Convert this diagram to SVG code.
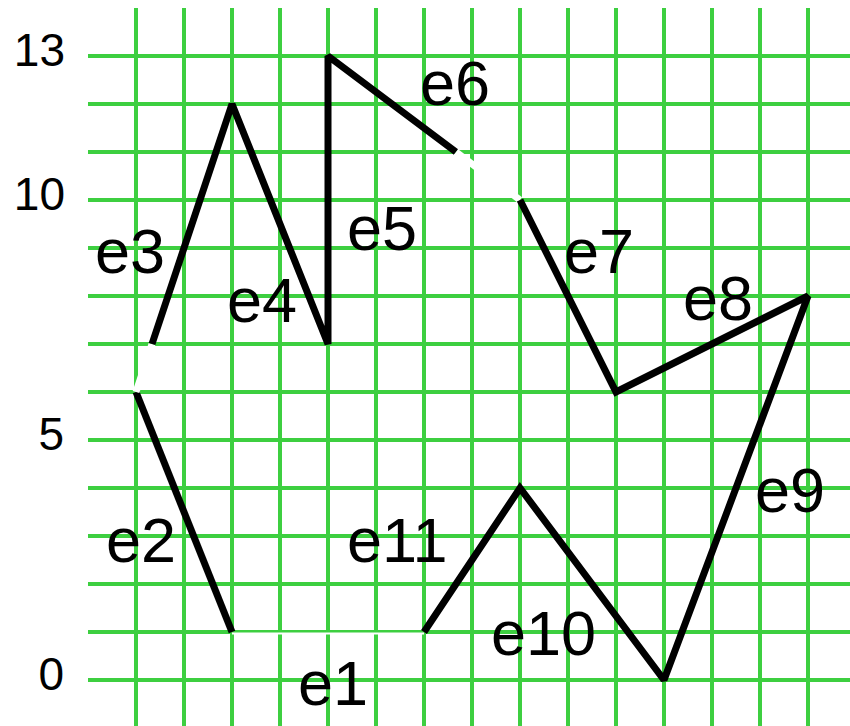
<svg xmlns="http://www.w3.org/2000/svg" width="850" height="726" viewBox="0 0 850 726">
<style>
.grid line{stroke:#3dcf40;stroke-width:4}
.edge{fill:none;stroke:#000;stroke-width:7;stroke-linejoin:miter;stroke-miterlimit:2;stroke-linecap:butt}
.gap{fill:none;stroke:#fff;stroke-width:7;stroke-linecap:butt}
.axis{font-family:"Liberation Sans",Arial,sans-serif;font-size:46px;fill:#000;text-anchor:end}
.lbl{font-family:"Liberation Sans",Arial,sans-serif;font-size:63px;fill:#000}
</style>
<rect width="850" height="726" fill="#fff"/>
<g id="grid" class="grid">
<line x1="136" y1="8" x2="136" y2="728"/><line x1="184" y1="8" x2="184" y2="728"/><line x1="232" y1="8" x2="232" y2="728"/><line x1="280" y1="8" x2="280" y2="728"/><line x1="328" y1="8" x2="328" y2="728"/><line x1="376" y1="8" x2="376" y2="728"/><line x1="424" y1="8" x2="424" y2="728"/><line x1="472" y1="8" x2="472" y2="728"/><line x1="520" y1="8" x2="520" y2="728"/><line x1="568" y1="8" x2="568" y2="728"/><line x1="616" y1="8" x2="616" y2="728"/><line x1="664" y1="8" x2="664" y2="728"/><line x1="712" y1="8" x2="712" y2="728"/><line x1="760" y1="8" x2="760" y2="728"/><line x1="808" y1="8" x2="808" y2="728"/>
<line x1="88" y1="56" x2="856" y2="56"/><line x1="88" y1="104" x2="856" y2="104"/><line x1="88" y1="152" x2="856" y2="152"/><line x1="88" y1="200" x2="856" y2="200"/><line x1="88" y1="248" x2="856" y2="248"/><line x1="88" y1="296" x2="856" y2="296"/><line x1="88" y1="344" x2="856" y2="344"/><line x1="88" y1="392" x2="856" y2="392"/><line x1="88" y1="440" x2="856" y2="440"/><line x1="88" y1="488" x2="856" y2="488"/><line x1="88" y1="536" x2="856" y2="536"/><line x1="88" y1="584" x2="856" y2="584"/><line x1="88" y1="632" x2="856" y2="632"/><line x1="88" y1="680" x2="856" y2="680"/>
</g>
<g id="axis-labels">
<text class="axis" x="65" y="66">13</text>
<text class="axis" x="65" y="210">10</text>
<text class="axis" x="64" y="450">5</text>
<text class="axis" x="64" y="690">0</text>
</g>
<g id="connectors">
<g id="e1"><line x1="232" y1="633.5" x2="424" y2="633.5" stroke="#fff" stroke-width="2"/><text class="lbl" x="298" y="705">e1</text></g>
<g id="e2"><line class="edge" x1="232" y1="632" x2="136" y2="392"/><text class="lbl" x="106" y="562">e2</text></g>
<g id="e3"><line class="gap" x1="136" y1="392" x2="152" y2="344"/><text class="lbl" x="95" y="273">e3</text></g>
<polyline class="edge" points="152,344 232,104 328,344 328,56 456,152"/>
<g id="e4"><text class="lbl" x="227" y="322">e4</text></g>
<g id="e5"><text class="lbl" x="347" y="250">e5</text></g>
<g id="e6"><line class="gap" x1="456" y1="152" x2="520" y2="200"/><text class="lbl" x="420" y="105">e6</text></g>
<polyline class="edge" points="520,200 616,392 808,296 664,680 520,488 424,632"/>
<g id="e7"><text class="lbl" x="564" y="273">e7</text></g>
<g id="e8"><text class="lbl" x="683" y="320">e8</text></g>
<g id="e9"><text class="lbl" x="755" y="512">e9</text></g>
<g id="e10"><text class="lbl" x="491" y="655">e10</text></g>
<g id="e11"><text class="lbl" x="347" y="562">e11</text></g>
</g>
</svg>
